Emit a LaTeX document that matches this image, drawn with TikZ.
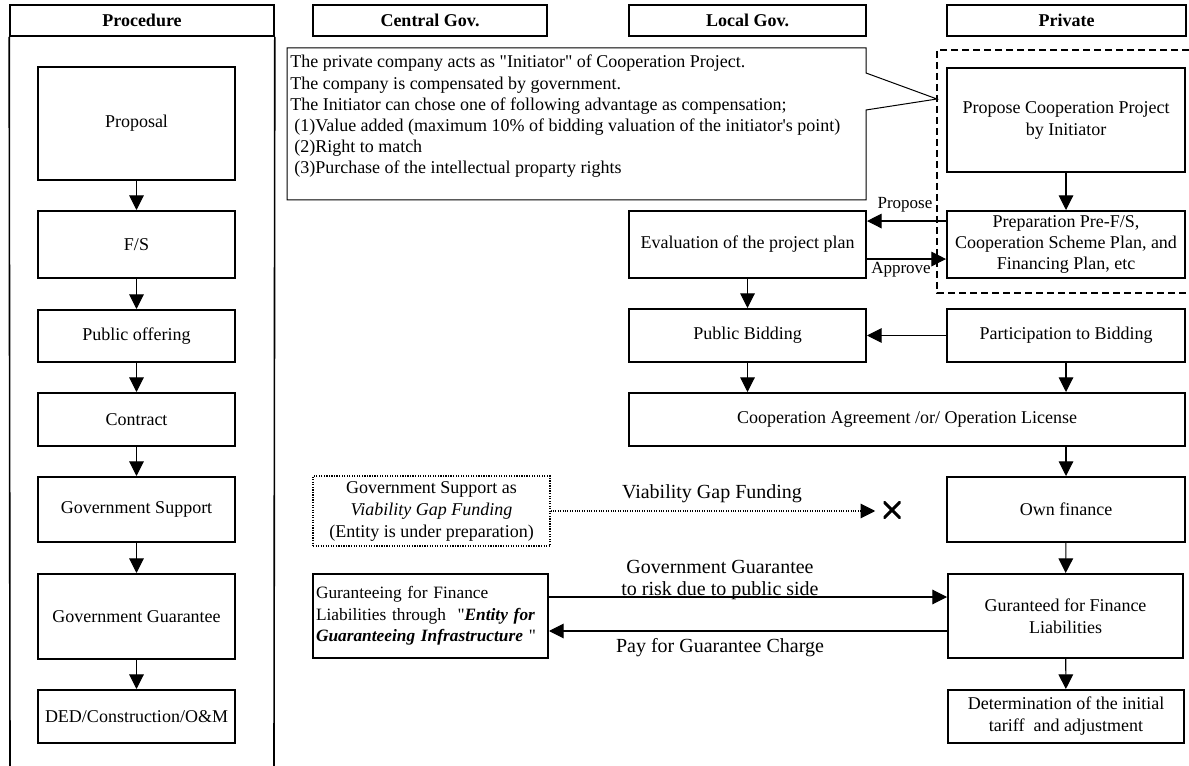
\documentclass[tikz,border=0pt]{standalone}
\usepackage{fontspec}
\setmainfont{Liberation Serif}[Ligatures=TeXOff]
\usetikzlibrary{arrows.meta}

\begin{document}
\begin{tikzpicture}[x=0.75pt,y=-0.75pt,
  every node/.style={font=\fontsize{13.5}{16.5}\selectfont},
  box/.style={draw, line width=1.5pt, align=center, inner sep=1pt},
  hdr/.style={box, font=\fontsize{13.5}{16.5}\selectfont\bfseries},
  wh/.style 2 args={minimum width=#1*0.75pt, minimum height=#2*0.75pt},
  flow/.style={-{Triangle[length=11pt,width=11pt]}, line width=0.8pt},
  dotbox/.style={draw, densely dotted, line width=0.9pt, align=center, inner sep=1pt},
  lbl/.style={inner sep=0pt, font=\fontsize{12.75}{15}\selectfont},
  biglbl/.style={inner sep=0pt, align=center, font=\fontsize{15}{17}\selectfont},
]
\useasboundingbox (0,0) rectangle (1189,766);

% ---- column headers ----
\node[hdr, wh={264}{31}, line width=1.2pt] (hproc) at (142,20.5) {Procedure};
\node[hdr, wh={234}{31}] (hcent) at (430,20.5) {Central Gov.};
\node[hdr, wh={237}{31}] (hloc) at (747.5,20.5) {Local Gov.};
\node[hdr, wh={239}{31}] (hpriv) at (1066.5,20.5) {Private};

% frame of the procedure column
\draw[line width=1.2pt] (hproc.south west) -- (10,766);
\draw[line width=1.2pt] (hproc.south east) -- (274,766);

% ---- procedure column ----
\node[box, wh={197}{113}] (p1) at (136.5,123.5) {Proposal};
\node[box, wh={197}{67}]  (p2) at (136.5,244.5) {F/S};
\node[box, wh={197}{52}]  (p3) at (136.5,336) {Public offering};
\node[box, wh={197}{53}]  (p4) at (136.5,419.5) {Contract};
\node[box, wh={197}{65}]  (p5) at (136.5,509.5) {Government Support};
\node[box, wh={197}{85}]  (p6) at (136.5,616.5) {Government Guarantee};
\node[box, wh={197}{53}]  (p7) at (136.5,716.5) {DED/Construction/O\&M};
\foreach \a/\b in {p1/p2,p2/p3,p3/p4,p4/p5,p5/p6,p6/p7}
  \draw[flow] (\a) -- (\b);

% ---- initiator scope (dashed) ----
\draw[dashed, dash pattern=on 5.25pt off 3pt, line width=1.1pt]
  (1189,50) -- (937,50) -- (937,293) -- (1189,293);

% ---- callout with the initiator's compensation ----
\draw[line width=0.75pt, fill=white]
  (287,48) -- (866,48) -- (866,73) -- (937,99) -- (866,110)
  -- (866,200) -- (287,200) -- cycle;
\node[anchor=north west, inner sep=0pt, align=left,
      font=\fontsize{13.5}{15.9}\selectfont] (callouttext) at (290,55)
 {The private company acts as "Initiator" of Cooperation Project.\\
  The company is compensated by government.\\
  The Initiator can chose one of following advantage as compensation;\\
  \hspace{3pt}(1)Value added (maximum 10\% of bidding valuation of the initiator's point)\\
  \hspace{3pt}(2)Right to match\\
  \hspace{3pt}(3)Purchase of the intellectual proparty rights};

% ---- private / local government flow ----
\node[box, wh={238}{104}] (prop) at (1066,120)
  {Propose Cooperation Project\\by Initiator};
\node[box, wh={238}{67}, font=\fontsize{13.5}{15.5}\selectfont] (prep) at (1066,244.5)
  {Preparation Pre-F/S,\\Cooperation Scheme Plan, and\\Financing Plan, etc};
\node[box, wh={237}{67}] (eval) at (747.5,244.5) {Evaluation of the project plan};
\node[box, wh={237}{53}] (pb) at (747.5,335.5) {Public Bidding};
\node[box, wh={238}{53}] (part) at (1066,335.5) {Participation to Bidding};
\node[box, wh={556}{53}] (coop) at (907,419.5)
  {Cooperation Agreement /or/ Operation License};
\node[box, wh={238}{65}] (own) at (1066,509.5) {Own finance};
\node[box, wh={235}{84}] (gted) at (1065.5,616) {Guranteed for Finance\\Liabilities};
\node[box, wh={236}{53}] (det) at (1066,716.5)
  {Determination of the initial\\tariff\ \ and adjustment};

\draw[flow] (prop) -- (prep);
\draw[flow] ([yshift=17.6pt]prep.west) -- ([yshift=17.6pt]eval.east);
\draw[flow] ([yshift=-10.9pt]eval.east) -- ([yshift=-10.9pt]prep.west);
\node[lbl] (lprop) at (905,205) {Propose};
\node[lbl] (lappr) at (901,270) {Approve};
\draw[flow] (eval) -- (pb);
\draw[flow] (part) -- (pb);
\draw[flow] (pb.south) -- (pb.south |- coop.north);
\draw[flow] (part.south) -- (part.south |- coop.north);
\draw[flow] (coop.south -| own.north) -- (own.north);
\draw[flow] (own) -- (gted);
\draw[flow] (gted) -- (det);

% ---- central government support ----
\node[dotbox, wh={237}{70}] (vgf) at (431.5,511)
  {Government Support as\\\textit{Viability Gap Funding}\\(Entity is under preparation)};
\node[wh={17}{17}, inner sep=0pt,
      path picture={\draw[line width=2.2pt]
        (path picture bounding box.north west) -- (path picture bounding box.south east)
        (path picture bounding box.south west) -- (path picture bounding box.north east);}]
  (nox) at (892,510) {};
\draw[densely dotted, line width=0.8pt, -{Triangle[length=11pt,width=11pt]}]
  (vgf.east) -- ([xshift=-6pt]nox.west |- vgf.east);
\node[biglbl] (lvgf) at (712,494) {Viability Gap Funding};

\node[box, wh={235}{84}, align=left, inner sep=2pt, text width=229*0.75pt,
      font=\fontsize{13}{16}\selectfont] (gting) at (430.5,616)
  {Guranteeing for Finance\\
   Liabilities through\ \ "\textbf{\textit{Entity for}}\\
   \textbf{\textit{Guaranteeing Infrastructure}} "};
\draw[flow] ([yshift=14.25pt]gting.east) -- ([yshift=14.25pt]gted.west);
\draw[flow] ([yshift=-11.25pt]gted.west) -- ([yshift=-11.25pt]gting.east);
\node[biglbl] (lgg) at (720,580) {Government Guarantee\\to risk due to public side};
\node[biglbl] (lpay) at (720,648) {Pay for Guarantee Charge};
\end{tikzpicture}
\end{document}
